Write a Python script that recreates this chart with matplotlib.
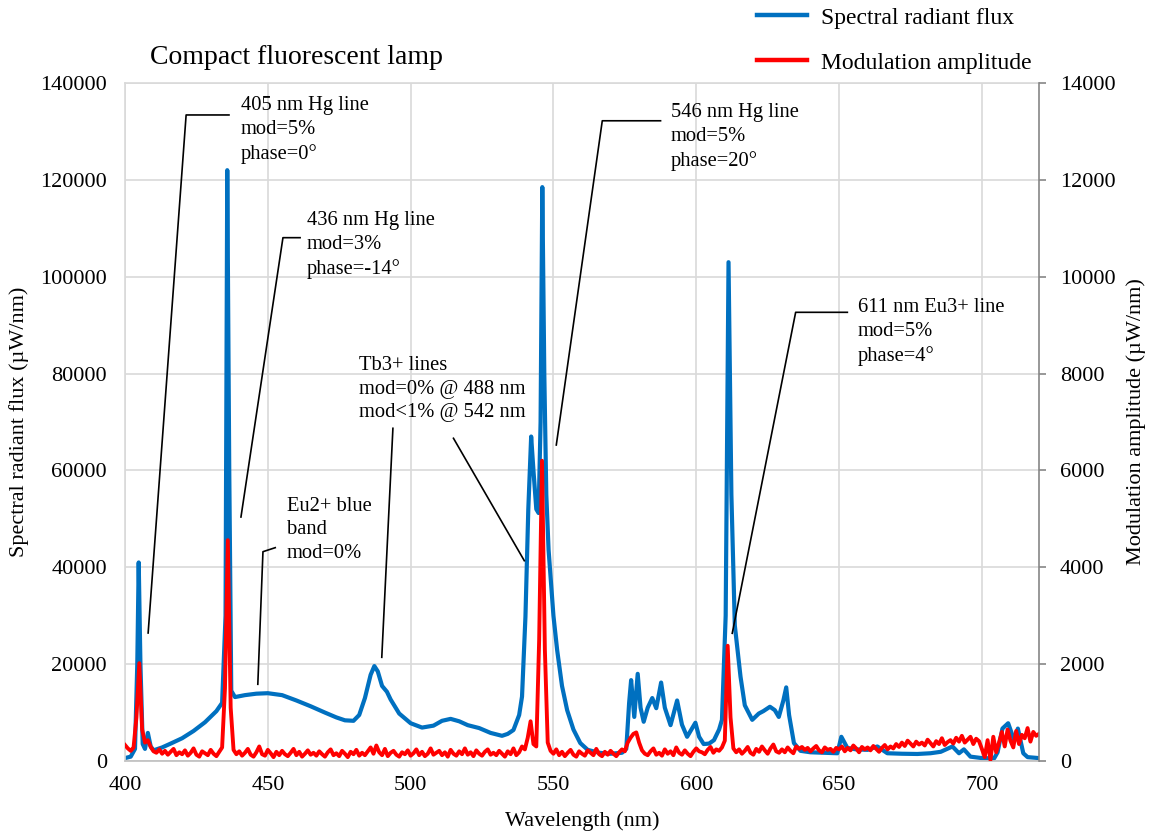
import numpy as np
import matplotlib.pyplot as plt
from matplotlib.lines import Line2D

plt.rcParams['font.family'] = ['Liberation Serif', 'DejaVu Serif']

# spectral radiant flux of the lamp (uW/nm)
flux_nm = [400, 402, 403.5, 404.3, 404.8, 405.4, 406.2, 407, 408, 409, 410, 413, 416, 420,
           424, 428, 432, 434, 435.2, 435.8, 436.5, 437.2, 438.5, 442, 446, 450, 455, 460,
           465, 470, 474, 477, 480, 482, 484, 486, 487.3, 488.5, 490, 491.7, 493, 496, 500,
           504, 508, 511, 514, 517, 520, 524, 528, 532, 534, 536, 538, 539, 540.2, 541.2,
           542.2, 543, 544, 544.8, 545.5, 546.1, 546.8, 547.5, 548.3, 550, 551.3, 553, 554.8,
           557, 559.4, 562, 566, 570, 574, 575.5, 576.5, 577.2, 578.3, 579.5, 580.5, 581.6,
           583, 584.6, 586, 587.7, 589, 591, 593.3, 595, 596.8, 599.7, 601, 602.6, 604.5,
           606.2, 608, 609, 610.3, 611.3, 612.3, 613.5, 615.5, 617, 619.6, 621.9, 623.5,
           625.8, 627.5, 628.9, 630.5, 631.5, 632.5, 634.2, 636.5, 640, 645, 649.4, 650.8,
           652.9, 656, 660, 663.4, 666.9, 672, 677.4, 682, 685.6, 689.7, 692, 693.7, 696,
           700, 704.3, 705.5, 707.2, 709.2, 711.3, 712.6, 714.5, 716, 720]
flux_uw = [600, 900, 2500, 20000, 41000, 20000, 3500, 2500, 5800, 3000, 2200, 2800, 3600, 4700,
           6200, 8000, 10300, 12000, 30000, 122000, 60000, 14500, 13200, 13600, 13900, 14000,
           13600, 12500, 11300, 10000, 9000, 8400, 8300, 9500, 13000, 17800, 19600, 18500,
           15500, 14300, 12700, 9800, 7800, 6900, 7300, 8300, 8700, 8200, 7400, 6800, 5800,
           5200, 5600, 6400, 9500, 13300, 29800, 52000, 67000, 60000, 52000, 51200, 70000,
           118500, 80000, 55000, 43600, 30000, 22900, 15500, 10500, 6500, 3700, 2300, 1700,
           1500, 1700, 2500, 12000, 16700, 9100, 18000, 11000, 8100, 11000, 13000, 10900,
           16200, 11000, 7400, 12500, 7500, 5000, 7900, 5000, 3500, 3600, 4300, 6500, 8500,
           30000, 103000, 55000, 28000, 17400, 11500, 8500, 9800, 10300, 11200, 10500, 9100,
           12500, 15200, 9500, 3700, 2100, 1800, 1700, 1600, 5000, 2700, 2400, 2300, 3000,
           1600, 1500, 1450, 1600, 1900, 3000, 1600, 2400, 900, 600, 550, 1800, 6700, 7800,
           4300, 6700, 1600, 800, 600]

# modulation amplitude, 1 nm steps from 400 to 720 nm (uW/nm)
mod_nm = np.arange(400, 721)
mod_uw = [330, 260, 210, 280, 900, 2020, 650, 380, 430, 290,
          200, 170, 240, 150, 210, 130, 190, 250, 120, 180,
          140, 220, 110, 170, 260, 130, 90, 200, 160, 120,
          230, 150, 100, 190, 280, 1500, 4560, 1100, 230, 140,
          200, 110, 170, 250, 130, 90, 180, 300, 140, 110,
          230, 160, 80, 190, 120, 210, 140, 100, 170, 250,
          120, 190, 90, 150, 220, 130, 170, 110, 200, 140,
          90, 180, 240, 120, 160, 100, 210, 150, 80, 190,
          140, 230, 110, 170, 120, 200, 280, 150, 320, 180,
          120, 250, 100, 170, 210, 130, 90, 180, 140, 220,
          110, 160, 240, 120, 190, 100, 150, 260, 130, 170,
          210, 120, 180, 90, 230, 150, 110, 200, 140, 260,
          130, 180, 100, 220, 150, 110, 190, 240, 130, 170,
          120, 210, 150, 90, 200, 140, 260, 120, 180, 300,
          240, 480, 820, 350, 300, 2500, 6200, 2300, 380, 210,
          150, 240, 120, 190, 100, 170, 230, 130, 90, 200,
          150, 110, 220, 170, 120, 250, 140, 100, 190, 130,
          210, 150, 100, 180, 240, 200, 380, 480, 560, 590,
          380, 220, 150, 120, 200, 260, 130, 170, 110, 240,
          150, 200, 120, 280, 170, 130, 220, 150, 100, 190,
          260, 200, 180, 140, 230, 290, 170, 240, 210, 280,
          420, 2380, 900, 260, 180, 240, 150, 210, 290, 170,
          130, 250, 190, 300, 220, 150, 260, 340, 200, 170,
          240, 180, 280, 210, 160, 300, 250, 290, 230, 270,
          200, 260, 310, 220, 180, 280, 230, 250, 190, 270,
          240, 300, 200, 270, 220, 320, 260, 180, 290, 240,
          280, 220, 310, 250, 190, 270, 330, 240, 300, 260,
          350, 290, 380, 310, 420, 360, 300, 400, 340, 380,
          320, 440, 370, 300, 410, 350, 470, 330, 390, 430,
          360, 480, 400, 520, 380, 440, 500, 350, 460, 410,
          250, 80, 430, 20, 500, 180, 380, 600, 300, 650,
          420, 280, 620, 350, 540, 470, 680, 400, 600, 520,
          560]

BLUE = '#0070C0'
RED = '#FF0000'
GRID = '#D9D9D9'

fig = plt.figure(figsize=(11.53, 8.36), dpi=100)
ax = fig.add_axes([125 / 1153, 1 - 761 / 836, 914 / 1153, 678 / 836])
ax2 = ax.twinx()

ax.plot(flux_nm, flux_uw, color=BLUE, lw=3.0, solid_joinstyle='round')
ax2.plot(mod_nm, mod_uw, color=RED, lw=2.8, solid_joinstyle='round')

ax.set_xlim(400, 720)
ax.set_ylim(0, 140000)
ax2.set_ylim(0, 14000)
ax.set_xticks(np.arange(400, 701, 50))
ax.set_yticks(np.arange(0, 140001, 20000))
ax2.set_yticks(np.arange(0, 14001, 2000))

ax.grid(True, color=GRID, lw=1.2)
ax.set_axisbelow(True)
for s in ['left', 'top']:
    ax.spines[s].set_color(GRID)
    ax.spines[s].set_linewidth(1.2)
ax.spines['bottom'].set_color('#BFBFBF')
ax.spines['bottom'].set_linewidth(1.2)
ax.spines['right'].set_visible(False)
for s in ['left', 'top', 'bottom']:
    ax2.spines[s].set_visible(False)
ax2.spines['right'].set_color('#868686')
ax2.spines['right'].set_linewidth(1.2)

ax.tick_params(axis='both', length=0, labelsize=16)
ax.tick_params(axis='y', pad=13)
ax.tick_params(axis='x', pad=11)
ax2.tick_params(axis='y', length=5, width=1.2, color='#868686', labelsize=16, pad=10)

ax.set_xlabel('Wavelength (nm)', fontsize=16)
ax.set_ylabel('Spectral radiant flux (µW/nm)', fontsize=16)
ax2.set_ylabel('Modulation amplitude (µW/nm)', fontsize=16)
ax.xaxis.set_label_coords(0.5, -0.074)
ax.yaxis.set_label_coords(-0.105, 0.5)
ax2.yaxis.set_label_coords(1.095, 0.5)

fig.text(150 / 1153, 1 - 57 / 836, 'Compact fluorescent lamp', fontsize=20, va='center')

handles = [Line2D([], [], color=BLUE, lw=3.2), Line2D([], [], color=RED, lw=3.2)]
fig.legend(handles, ['Spectral radiant flux', 'Modulation amplitude'],
           loc='upper left', bbox_to_anchor=(757 / 1153, 1 - 7 / 836),
           frameon=False, fontsize=17, handlelength=2.1, handletextpad=0.6,
           labelspacing=1.0, borderpad=0, borderaxespad=0)

# callouts: text block plus leader line, in flux coordinates
notes = [
    ('405 nm Hg line\nmod=5%\nphase=0°', (440.5, 130300),
     [[(436.4, 133400), (421.4, 133400), (408.1, 26430)]]),
    ('436 nm Hg line\nmod=3%\nphase=-14°', (463.7, 106550),
     [[(461.3, 108060), (455.3, 108060), (440.6, 50380)]]),
    ('Eu2+ blue\nband\nmod=0%', (456.6, 47700),
     [[(452.6, 44050), (448.3, 43220), (446.5, 15840)]]),
    ('Tb3+ lines\nmod=0% @ 488 nm\nmod<1% @ 542 nm', (482.1, 76810),
     [[(493.8, 68700), (489.9, 21410)], [(515.0, 66640), (539.8, 41360)]]),
    ('546 nm Hg line\nmod=5%\nphase=20°', (591.0, 128850),
     [[(587.5, 132200), (567.1, 132200), (551.0, 65250)]]),
    ('611 nm Eu3+ line\nmod=5%\nphase=4°', (656.6, 88580),
     [[(652.9, 92650), (634.8, 92650), (612.6, 26370)]]),
]
for label, (tx, ty), leaders in notes:
    ax2.text(tx, ty, label, transform=ax.transData, fontsize=14.8,
             ha='left', va='center', linespacing=1.35)
    for pts in leaders:
        xs, ys = zip(*pts)
        ax2.add_line(Line2D(xs, ys, transform=ax.transData, color='black', lw=1.2))

fig.savefig('out.png', dpi=100)
